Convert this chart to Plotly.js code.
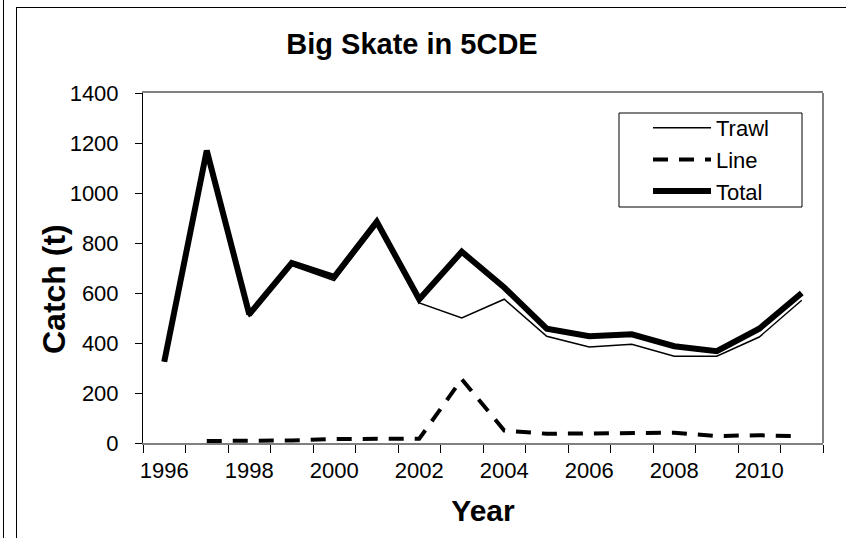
<!DOCTYPE html>
<html>
<head>
<meta charset="utf-8">
<script src="https://cdn.plot.ly/plotly-3.0.1.min.js"></script>
<style>
  html, body { margin: 0; padding: 0; background: #fff; }
  #wrap { position: relative; width: 846px; height: 538px; overflow: hidden; }
  #chart { position: absolute; left: 0; top: 0; width: 846px; height: 538px; }
  .frame-v { position: absolute; top: 0; bottom: 0; width: 1px; background: #000; pointer-events: none; }
  .frame-h { position: absolute; left: 16px; right: 0; height: 1px; background: #000; pointer-events: none; }
</style>
</head>
<body>
<div id="wrap">
  <div id="chart"></div>
  <div class="frame-v" style="left:3px"></div>
  <div class="frame-v" style="left:16px; top:7px"></div>
  <div class="frame-h" style="top:7px"></div>
</div>
<script>
const years = [1996, 1997, 1998, 1999, 2000, 2001, 2002, 2003, 2004, 2005, 2006, 2007, 2008, 2009, 2010, 2011];
const trawl = [325, 1160, 505, 710, 650, 870, 560, 500, 575, 427, 384, 395, 347, 347, 424, 571];
const line  = [null, 8, 8, 10, 16, 15, 17, 255, 50, 37, 38, 40, 41, 28, 31, 27];
const total = [325, 1170, 515, 720, 665, 885, 575, 765, 622, 457, 427, 435, 387, 367, 457, 600];
const tickYears = [1996, 1998, 2000, 2002, 2004, 2006, 2008, 2010];
const tickLabels = ['1996', '1998', '2000', '2002', '2004', '2006', '2008', '2010'];

const FONT = 'Arial, "Liberation Sans", sans-serif';

// plot area in pixels (for placing the legend box and y title)
const PL = 143, PR = 823, PT = 93, PB = 443;
const px2x = p => (p - PL) / (PR - PL);
const px2y = p => (PB - p) / (PB - PT);

const traces = [
  { x: years, y: trawl, name: 'Trawl', mode: 'lines', legendgroup: 'a',
    line: { color: '#000', width: 1.5 } },
  { x: years, y: line, name: 'Line', mode: 'lines', legendgroup: 'b',
    line: { color: '#000', width: 4, dash: '15px,11px' } },
  { x: years, y: total, name: 'Total', mode: 'lines', legendgroup: 'c',
    line: { color: '#000', width: 6 } }
];

const layout = {
  width: 846, height: 538,
  margin: { l: PL, r: 846 - PR, t: PT, b: 538 - PB },
  paper_bgcolor: '#fff', plot_bgcolor: '#fff',
  font: { family: FONT, color: '#000', size: 22 },
  title: { text: 'Big Skate in 5CDE', font: { family: FONT, size: 29, weight: 'bold', color: '#000' },
           x: 412 / 846, xanchor: 'center', xref: 'container', y: 1 - 44 / 538, yanchor: 'middle', yref: 'container' },
  xaxis: {
    range: [1995.5, 2011.5], tickmode: 'array', tickvals: tickYears, ticktext: tickLabels,
    ticks: '', showgrid: false, zeroline: false,
    showline: true, linecolor: '#808080', linewidth: 2, mirror: true,
    tickfont: { size: 22, family: FONT, color: '#000' }, ticklabelstandoff: 7,
    minor: { tick0: 1995.5, dtick: 1, ticks: 'outside', ticklen: 8, tickwidth: 1, tickcolor: '#000', showgrid: false },
    title: { text: 'Year', font: { size: 30, weight: 'bold', family: FONT, color: '#000' }, standoff: 18 }
  },
  yaxis: {
    range: [0, 1400], dtick: 200, tick0: 0,
    ticks: 'outside', ticklen: 7, tickwidth: 1, tickcolor: '#000',
    showgrid: false, zeroline: false, showline: true, linecolor: '#000', linewidth: 1,
    tickfont: { size: 22, family: FONT, color: '#000' }, ticklabelstandoff: 12
  },
  annotations: [
    { text: '<b>Catch (t)</b>', textangle: -90, showarrow: false,
      xref: 'paper', yref: 'paper', x: px2x(54), y: px2y(289), xanchor: 'center', yanchor: 'middle',
      font: { size: 32, family: FONT, color: '#000' } }
  ],
  showlegend: true,
  legend: {
    x: px2x(648), y: px2y(107), xanchor: 'left', yanchor: 'top',
    bgcolor: 'rgba(0,0,0,0)', borderwidth: 0,
    font: { size: 22, family: FONT, color: '#000' },
    itemwidth: 58, tracegroupgap: 3, traceorder: 'normal'
  },
  shapes: [
    { type: 'line', xref: 'paper', yref: 'paper', x0: 1, x1: 1, y0: 0, y1: 1,
      line: { color: '#808080', width: 2 } },
    { type: 'rect', xref: 'paper', yref: 'paper', layer: 'below',
      x0: px2x(619), x1: px2x(802), y0: px2y(207), y1: px2y(113),
      line: { color: '#000', width: 1 }, fillcolor: '#fff' }
  ]
};

Plotly.newPlot('chart', traces, layout, { displayModeBar: false, staticPlot: true });
</script>
</body>
</html>
